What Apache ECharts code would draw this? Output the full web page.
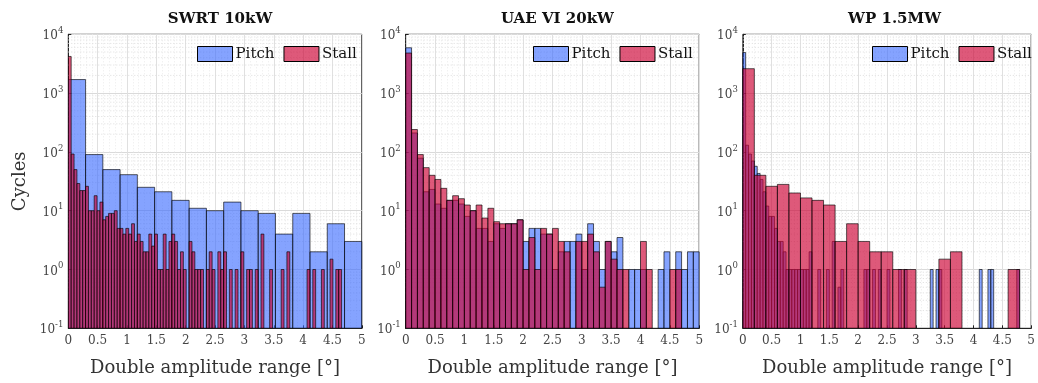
<!DOCTYPE html>
<html><head><meta charset="utf-8">
<script src="https://cdn.jsdelivr.net/npm/echarts@6/dist/echarts.min.js"></script>
<style>html,body{margin:0;padding:0;background:#fff}#c{width:1038px;height:383px}</style>
</head><body><div id="c"></div><script>
// ---------- data ----------
const panelTitles = ['SWRT 10kW', 'UAE VI 20kW', 'WP 1.5MW'];
const seriesNames = ['Pitch', 'Stall'];
const xAxisName = 'Double amplitude range [°]';
const yAxisName = 'Cycles';
const xTickStep = 0.5;
const yDecades = [0.1, 1, 10, 100, 1000, 10000];
const yMinorMultipliers = [2, 3, 4, 5, 6, 7, 8, 9];

// bin widths (degrees)
const pitchBinWidth = [5 / 17, 0.1, 0.05];
const stallBinWidth = [0.049, 0.1, 0.2];

// SWRT 10kW
const pitchSWRT = [1700, 90, 50, 41, 25, 21, 15, 11, 10, 14, 10, 9, 4, 9, 2, 6, 3];
const stallSWRT = [4200, 92, 50, 29, 22, 22, 26, 10, 10, 18, 10, 14, 7, 8, 9, 9, 10, 5, 5, 4,
  5, 4, 6, 3, 4, 3, 2, 2, 4, 2.5, 4, 1, 1, 4, 1, 3, 4, 3, 1, 2,
  1, 0, 3, 2, 1, 1, 1, 0, 1, 2, 1, 0, 2, 1, 2, 0, 1, 0, 1, 0,
  2, 0, 1, 1, 0, 1, 0, 4, 0, 0, 1, 0, 0, 0, 1, 0, 2, 0, 0, 0,
  0, 0, 0, 1, 0, 1, 0, 0, 1, 0, 0, 1.5, 0, 1, 1];

// UAE VI 20kW
const pitchUAE = [5900, 210, 78, 21, 23, 13, 11, 15, 15, 13, 8, 10, 5, 5, 3, 6, 5, 6, 6, 7,
  3, 5, 5, 4, 4, 1, 2, 3, 3, 4, 1, 6, 3, 1, 3, 2, 3.5, 0, 1, 1,
  1, 0, 0, 1, 2, 0, 2, 1, 2, 2];
const stallUAE = [4800, 240, 90, 54, 40, 34, 24, 15, 18, 16, 12.5, 10, 12.5, 7.5, 11, 6.5, 6, 6, 6, 7,
  1, 3.5, 1, 5, 4, 5, 3, 2, 0, 3, 3, 4, 2, 0.5, 3, 1.5, 1, 1, 0, 0,
  3, 1, 0, 0, 0, 1, 1, 0, 0, 0];

// WP 1.5MW
const pitchWP = [4900, 130, 92, 70, 57, 43, 34, 21, 12, 8, 8, 5, 3, 3, 2, 1, 1, 1, 1, 1,
  1, 1, 1, 2, 0, 0, 1, 0, 0, 1, 0, 3, 0, 0.5, 1, 0, 0, 0, 0, 0,
  0, 0, 1, 1, 0, 1, 0, 1, 0, 0, 1, 0, 0, 0, 1, 0, 1, 0, 0, 0,
  0, 0, 0, 0, 0, 1, 0, 1, 1, 0, 0, 0, 0, 0, 0, 0, 0, 0, 0, 0,
  0, 0, 1, 0, 0, 1, 1, 0, 0, 0, 0, 0, 0, 0, 0, 1, 0, 0, 0, 0];
const stallWP = [2600, 40, 26, 28, 20, 16.5, 15, 12.5, 3, 6, 3, 2, 2, 1, 1, 0, 0, 1.5, 2, 0,
  0, 0, 0, 1, 0];

const pitchData = [pitchSWRT, pitchUAE, pitchWP];
const stallData = [stallSWRT, stallUAE, stallWP];

// ---------- style / layout ----------
const FONT = 'DejaVu Serif';
const pitchFill = 'rgba(51,102,255,0.6)';
const stallFill = 'rgba(204,0,51,0.65)';
const edge = 'rgba(0,0,0,0.7)';
const gridLeft = [68.3, 405.7, 742.8];
const gridTop = 34.3, gridW = 293.5, gridH = 294;
const legendLeft = [197, 533, 872];

const yMinor = [];
yDecades.slice(0, -1).forEach(d => yMinorMultipliers.forEach(m => yMinor.push(+(d * m).toPrecision(3))));

function toBins(counts, w) {
  const out = [];
  counts.forEach((c, i) => { if (c > 0) out.push([i * w, (i + 1) * w, c]); });
  return out;
}
function histSeries(name, gi, counts, w, fill) {
  return {
    type: 'custom', name, xAxisIndex: gi, yAxisIndex: gi, z: 3, clip: true,
    itemStyle: { color: fill, borderColor: '#000', borderWidth: 1 },
    encode: { x: [0, 1], y: 2 },
    data: toBins(counts, w),
    renderItem: (params, api) => {
      const a = api.coord([api.value(0), api.value(2)]);
      const b = api.coord([api.value(1), yDecades[0]]);
      return { type: 'rect', shape: { x: a[0], y: a[1], width: b[0] - a[0], height: b[1] - a[1] },
        style: { fill, stroke: edge, lineWidth: 0.9 } };
    }
  };
}
function minorGridSeries(gi) {
  return {
    type: 'custom', xAxisIndex: gi, yAxisIndex: gi, z: 1, silent: true,
    encode: { y: 0 },
    data: yMinor.map(v => [v]),
    renderItem: (params, api) => {
      const cs = params.coordSys;
      const y = api.coord([0, api.value(0)])[1];
      return { type: 'line', shape: { x1: cs.x, y1: y, x2: cs.x + cs.width, y2: y },
        style: { stroke: '#dcdcdc', lineWidth: 1, lineDash: [1, 2] } };
    }
  };
}

const grids = [], xAxes = [], yAxes = [], series = [], titles = [], legends = [];
for (let i = 0; i < 3; i++) {
  grids.push({ left: gridLeft[i], top: gridTop, width: gridW, height: gridH, show: true,
    borderColor: '#222', borderWidth: 1, backgroundColor: 'transparent' });
  xAxes.push({ type: 'value', gridIndex: i, min: 0, max: 5, interval: xTickStep,
    name: xAxisName, nameLocation: 'middle', nameGap: 31,
    nameTextStyle: { fontFamily: FONT, fontSize: 18, color: '#333' },
    axisLine: { show: true, lineStyle: { color: '#222' } },
    axisTick: { show: true, inside: true, length: 3, lineStyle: { color: '#222' } },
    axisLabel: { fontFamily: FONT, fontSize: 12, color: '#444', margin: 7,
      formatter: v => String(+v.toFixed(2)) },
    splitLine: { show: true, lineStyle: { color: '#e0e0e0', width: 1 } },
    minorTick: { show: false, splitNumber: 5 },
    minorSplitLine: { show: true, lineStyle: { color: '#ebebeb', type: [1, 2], width: 1 } } });
  yAxes.push({ type: 'log', logBase: 10, gridIndex: i, min: yDecades[0], max: yDecades[yDecades.length - 1],
    name: i === 0 ? yAxisName : '', nameLocation: 'middle', nameGap: 39, nameRotate: 90,
    nameTextStyle: { fontFamily: FONT, fontSize: 18, color: '#333' },
    axisLine: { show: true, lineStyle: { color: '#222' } },
    axisTick: { show: true, inside: true, length: 3, lineStyle: { color: '#222' } },
    axisLabel: { margin: 5, formatter: v => '{b|10}{s|' + Math.round(Math.log10(v)) + '}',
      rich: { b: { fontFamily: FONT, fontSize: 12, color: '#444', lineHeight: 16, verticalAlign: 'bottom' },
              s: { fontFamily: FONT, fontSize: 8.5, color: '#444', lineHeight: 16, verticalAlign: 'top' } } },
    splitLine: { show: true, lineStyle: { color: '#dadada', width: 1 } } });
  series.push(minorGridSeries(i));
  series.push(histSeries(seriesNames[0], i, pitchData[i], pitchBinWidth[i], pitchFill));
  series.push(histSeries(seriesNames[1], i, stallData[i], stallBinWidth[i], stallFill));
  titles.push({ text: panelTitles[i], left: gridLeft[i] + gridW / 2, top: 7, textAlign: 'center',
    textStyle: { fontFamily: FONT, fontSize: 15, fontWeight: 'bold', color: '#111' } });
  legends.push({ left: legendLeft[i], top: 46, padding: 0, itemWidth: 35, itemHeight: 15, itemGap: 9,
    selectedMode: false, icon: 'rect',
    textStyle: { fontFamily: FONT, fontSize: 15, color: '#111', padding: [0, 0, 0, -2] },
    data: [
      { name: seriesNames[0], itemStyle: { color: pitchFill, borderColor: '#000', borderWidth: 1 } },
      { name: seriesNames[1], itemStyle: { color: stallFill, borderColor: '#000', borderWidth: 1 } }
    ] });
}

const chart = echarts.init(document.getElementById('c'), null, { renderer: 'canvas' });
chart.setOption({ animation: false, backgroundColor: '#fff', title: titles, legend: legends,
  grid: grids, xAxis: xAxes, yAxis: yAxes, series });
</script></body></html>
